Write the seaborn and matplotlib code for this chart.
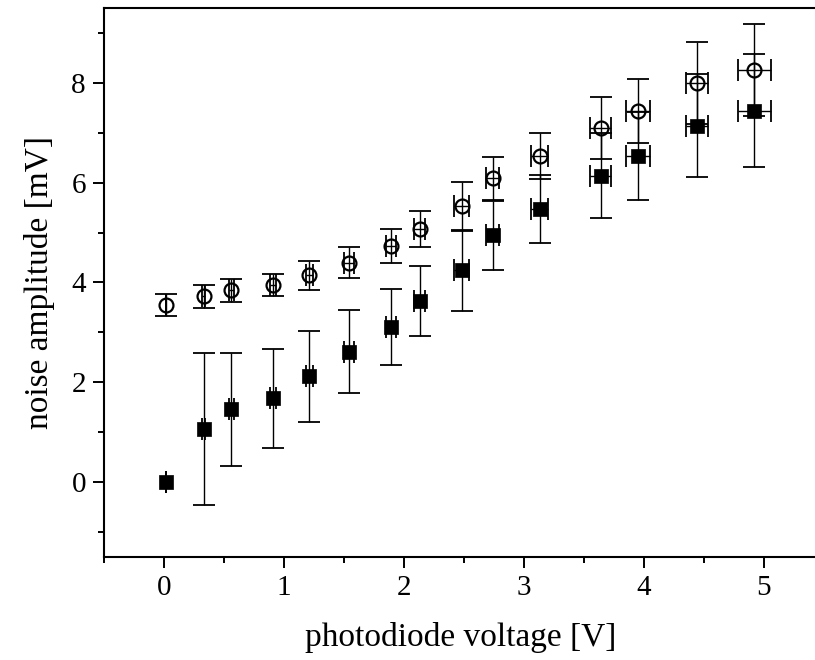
import numpy as np
import pandas as pd
import matplotlib
matplotlib.use("Agg")
import matplotlib.pyplot as plt
import seaborn as sns
from matplotlib.ticker import MultipleLocator

# photodiode voltage [V] of each measurement
voltage = [0.02, 0.33, 0.56, 0.91, 1.21, 1.54, 1.89, 2.13, 2.48, 2.74, 3.13, 3.64, 3.95, 4.44, 4.92]
voltage_err = [0.0, 0.015, 0.02, 0.025, 0.03, 0.04, 0.04, 0.045, 0.064, 0.055, 0.072, 0.088, 0.097, 0.093, 0.14]

# open circles: total noise amplitude [mV]
noise_total = [3.55, 3.72, 3.84, 3.94, 4.14, 4.40, 4.73, 5.07, 5.53, 6.09, 6.54, 7.09, 7.44, 7.99, 8.25]
noise_total_err = [0.22, 0.23, 0.235, 0.22, 0.29, 0.32, 0.34, 0.36, 0.49, 0.43, 0.46, 0.62, 0.64, 0.82, 0.92]

# filled squares: noise amplitude with dark noise removed [mV]
noise_signal = [0.00, 1.07, 1.46, 1.68, 2.12, 2.61, 3.11, 3.63, 4.24, 4.95, 5.47, 6.14, 6.53, 7.14, 7.44]
noise_signal_err = [0.0, 1.52, 1.13, 0.99, 0.91, 0.83, 0.76, 0.71, 0.82, 0.69, 0.68, 0.85, 0.88, 1.03, 1.13]

sns.set_theme(style="ticks")
plt.rcParams["font.family"] = ["Liberation Serif", "DejaVu Serif"]
plt.rcParams["text.color"] = "black"
plt.rcParams["axes.labelcolor"] = "black"
plt.rcParams["xtick.color"] = "black"
plt.rcParams["ytick.color"] = "black"

fig = plt.figure(figsize=(8.15, 6.6), dpi=100)
ax = fig.add_axes([0.1276, 0.156, 0.876, 0.832])

df = pd.DataFrame({
    "voltage": voltage * 2,
    "noise": noise_total + noise_signal,
    "series": ["total"] * len(voltage) + ["signal"] * len(voltage),
})

err_kw = dict(fmt="none", ecolor="black", elinewidth=1.0, capsize=7.9, capthick=1.3, zorder=2)


def draw_errors(x, y, xe, ye):
    x, y, xe, ye = map(np.asarray, (x, y, xe, ye))
    # horizontal (voltage) error bars for every point
    ax.errorbar(x, y, xerr=xe, **err_kw)
    # vertical error bars only where an uncertainty was given
    has_y = ye > 0
    ax.errorbar(x[has_y], y[has_y], yerr=ye[has_y], **err_kw)


draw_errors(voltage, noise_total, voltage_err, noise_total_err)
draw_errors(voltage, noise_signal, voltage_err, noise_signal_err)

sns.scatterplot(data=df[df.series == "signal"], x="voltage", y="noise", ax=ax,
                marker="s", s=105, color="black", edgecolor="black", linewidth=0.5,
                legend=False, zorder=3)
ax.plot(voltage, noise_total, linestyle="none", marker="o", markersize=10,
        markerfacecolor="none", markeredgecolor="black", markeredgewidth=1.6, zorder=3)

ax.set_xlim(-0.5, 5.45)
ax.set_ylim(-1.5, 9.5)
ax.xaxis.set_major_locator(MultipleLocator(1))
ax.xaxis.set_minor_locator(MultipleLocator(0.5))
ax.yaxis.set_major_locator(MultipleLocator(2))
ax.yaxis.set_minor_locator(MultipleLocator(1))

for side in ("left", "bottom", "top"):
    ax.spines[side].set_linewidth(1.5)
    ax.spines[side].set_color("black")
ax.spines["right"].set_visible(False)

ax.tick_params(which="major", direction="out", length=8, width=1.4, labelsize=21, pad=5,
               color="black", labelcolor="black")
ax.tick_params(which="minor", direction="out", length=4.5, width=1.4, color="black")
ax.tick_params(axis="x", which="both", top=False)
ax.tick_params(axis="y", which="both", right=False)

ax.set_xlabel("photodiode voltage [V]", fontsize=24, labelpad=15, color="black")
ax.set_ylabel("noise amplitude [mV]", fontsize=24, labelpad=12, color="black")

fig.savefig("out.png", dpi=100)
